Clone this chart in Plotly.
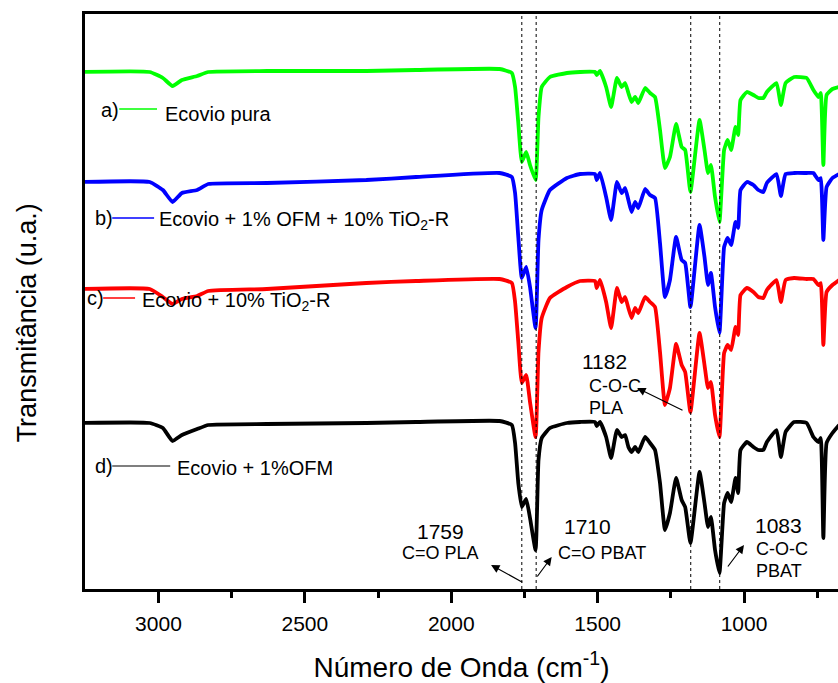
import plotly.graph_objects as go

# Wavenumber grid (cm^-1) and transmittance (arbitrary units, offset spectra)
wavenumber = [3260, 3030, 2985, 2952, 2920, 2868, 2830, 2630, 2290, 2120,
              1835, 1793, 1782, 1771, 1759, 1744, 1731, 1712, 1702, 1691,
              1663, 1605, 1560, 1509, 1503, 1492, 1471, 1454, 1434, 1418,
              1406, 1395, 1384, 1372, 1361, 1338, 1321, 1304, 1287, 1270,
              1253, 1232, 1213, 1201, 1183, 1152, 1135, 1123, 1113, 1099,
              1084, 1068, 1056, 1044, 1029, 1020, 1012, 990, 968, 951,
              934, 922, 889, 874, 858, 829, 786, 763, 746, 738,
              729, 718, 698, 675]

ecovio_pura = [517, 517, 511, 503, 509, 513, 517, 518, 518, 519,
               520, 516, 502, 466, 427, 437, 424, 409, 472, 502,
               512, 516, 517, 517, 514, 518, 502, 482, 511, 502,
               506, 496, 487, 492, 486, 501, 496, 492, 459, 421,
               432, 465, 442, 439, 397, 469, 439, 416, 424, 392,
               367, 439, 449, 439, 462, 454, 489, 497, 494, 491,
               491, 497, 506, 484, 506, 512, 511, 499, 492, 496,
               424, 494, 500, 502]

ecovio_ofm_tio2 = [407, 407, 399, 387, 396, 399, 405, 406, 409, 412,
                   416, 412, 396, 352, 311, 322, 302, 261, 349, 379,
                   399, 411, 415, 415, 409, 416, 392, 369, 407, 396,
                   401, 389, 377, 387, 381, 400, 394, 391, 346, 292,
                   309, 352, 329, 326, 282, 364, 332, 304, 316, 282,
                   256, 342, 351, 344, 367, 361, 399, 407, 404, 399,
                   397, 406, 415, 393, 415, 416, 416, 416, 409, 411,
                   349, 402, 411, 415]

ecovio_tio2 = [300, 300, 292, 285, 290, 293, 298, 300, 306, 308,
               310, 306, 287, 247, 206, 214, 187, 152, 237, 271,
               291, 302, 308, 308, 301, 309, 287, 261, 301, 287,
               292, 281, 271, 281, 276, 292, 287, 282, 237, 184,
               201, 245, 224, 217, 177, 256, 224, 201, 207, 174,
               152, 236, 244, 239, 262, 254, 294, 301, 297, 292,
               291, 299, 309, 287, 309, 311, 310, 310, 304, 306,
               244, 297, 304, 309]

ecovio_ofm = [166, 166, 161, 148, 154, 160, 164, 165, 166, 167,
              168, 164, 146, 106, 82, 90, 71, 39, 129, 151,
              161, 166, 167, 167, 163, 167, 152, 131, 159, 152,
              154, 142, 137, 142, 137, 152, 146, 139, 106, 59,
              76, 111, 89, 82, 46, 117, 86, 62, 72, 39,
              16, 86, 96, 87, 111, 96, 139, 147, 142, 139,
              139, 147, 159, 132, 157, 167, 166, 152, 147, 151,
              51, 146, 156, 164]

series_names = ["Ecovio pura", "Ecovio + 1% OFM + 10% TiO<sub>2</sub>-R",
                "Ecovio + 10% TiO<sub>2</sub>-R", "Ecovio + 1%OFM"]
series_tags = ["a)", "b)", "c)", "d)"]
series_colors = ["#00FF00", "#0000FF", "#FF0000", "#000000"]

band_positions = [1759, 1710, 1182, 1083]
x_ticks = [3000, 2500, 2000, 1500, 1000]
x_minor_ticks = [2750, 2250, 1750, 1250, 750]

FONT = "Arial, Liberation Sans, sans-serif"

fig = go.Figure()
for name, vals, col in zip(series_names,
                           [ecovio_pura, ecovio_ofm_tio2, ecovio_tio2, ecovio_ofm],
                           series_colors):
    fig.add_trace(go.Scatter(x=wavenumber, y=vals, mode="lines", name=name,
                             line=dict(color=col, width=3.8, shape="spline", smoothing=0.4),
                             showlegend=False))

# dashed band markers
for b in band_positions:
    fig.add_shape(type="line", xref="x", yref="y", x0=b, x1=b, y0=0, y1=573,
                  line=dict(color="black", width=1, dash="3px,3px"))

# in-plot labels for each spectrum: tag, short coloured line, name
tag_pos = [(3128, 479), (3148, 371), (3179, 291), (3148, 123)]
seg_pos = [(3134, 3005, 480), (3158, 3015, 371), (3189, 3080, 291), (3158, 2960, 123)]
name_pos = [(2984, 475), (3005, 369), (3063, 288), (2943, 121)]
for tag, nm, col, tp, sp, np_ in zip(series_tags, series_names, series_colors,
                                     tag_pos, seg_pos, name_pos):
    fig.add_annotation(x=tp[0], y=tp[1], text=tag, showarrow=False, xanchor="right",
                       yanchor="middle", font=dict(family=FONT, size=20, color="black"))
    fig.add_shape(type="line", xref="x", yref="y", x0=sp[0], x1=sp[1], y0=sp[2], y1=sp[2],
                  line=dict(color=col if col != "#000000" else "#555555", width=1.3))
    fig.add_annotation(x=np_[0], y=np_[1], text=nm, showarrow=False, xanchor="left",
                       yanchor="middle", font=dict(family=FONT, size=20, color="black"))

# band annotations
def txt(x, y, t, size, anchor="center"):
    fig.add_annotation(x=x, y=y, text=t, showarrow=False, xanchor=anchor, yanchor="middle",
                       font=dict(family=FONT, size=size, color="black"))

txt(2038, 58, "1759", 21)
txt(2038, 36, "C=O PLA", 18)
txt(1533, 63, "1710", 21)
txt(1485, 36, "C=O PBAT", 18)
txt(1475, 228, "1182", 21)
txt(1536, 203, "C-O-C", 18, "left")
txt(1536, 181, "PLA", 18, "left")
txt(969, 64, "1083", 21, "left")
txt(966, 40, "C-O-C", 18, "left")
txt(966, 18, "PBAT", 18, "left")

arrows = [((1752, 6), (1864, 24)), ((1710, 11), (1657, 32)),
          ((1205, 178), (1365, 201)), ((1059, 21), (1000, 44))]
for (tx, ty), (hx, hy) in arrows:
    fig.add_annotation(x=hx, y=hy, ax=tx, ay=ty, xref="x", yref="y", axref="x", ayref="y",
                       text="", showarrow=True, arrowhead=2, arrowsize=1.4, arrowwidth=1.2,
                       arrowcolor="black")

# y-axis title placed as rotated text (slightly below the plot centre, as in the original)
fig.add_annotation(xref="paper", yref="paper", x=-0.077, y=0.462, text="Transmitância (u.a.)",
                   textangle=-90, showarrow=False, xanchor="center", yanchor="middle",
                   font=dict(family=FONT, size=27, color="black"))

fig.update_layout(
    width=838, height=683,
    margin=dict(l=85, r=0, t=14, b=94),
    paper_bgcolor="white", plot_bgcolor="white",
    font=dict(family=FONT, color="black"),
)
fig.update_xaxes(
    range=[3251, 679], showgrid=False, zeroline=False,
    showline=True, linecolor="black", linewidth=3, mirror=True,
    ticks="outside", ticklen=11, tickwidth=3, tickcolor="black",
    tickvals=x_ticks, ticklabelstandoff=3,
    minor=dict(tickvals=x_minor_ticks, ticks="outside", ticklen=6,
               tickwidth=3, tickcolor="black"),
    tickfont=dict(family=FONT, size=21, color="black"),
    title=dict(text="Número de Onda (cm<sup>-1</sup>)", standoff=27,
               font=dict(family=FONT, size=28, color="black")),
)
fig.update_yaxes(
    range=[0, 575], showgrid=False, zeroline=False,
    showline=True, linecolor="black", linewidth=3, mirror=False,
    showticklabels=False, ticks="",
)

fig.write_html("out.html", config={"displayModeBar": False},
               post_script="document.body.style.margin='0px';document.body.style.overflow='hidden';")
